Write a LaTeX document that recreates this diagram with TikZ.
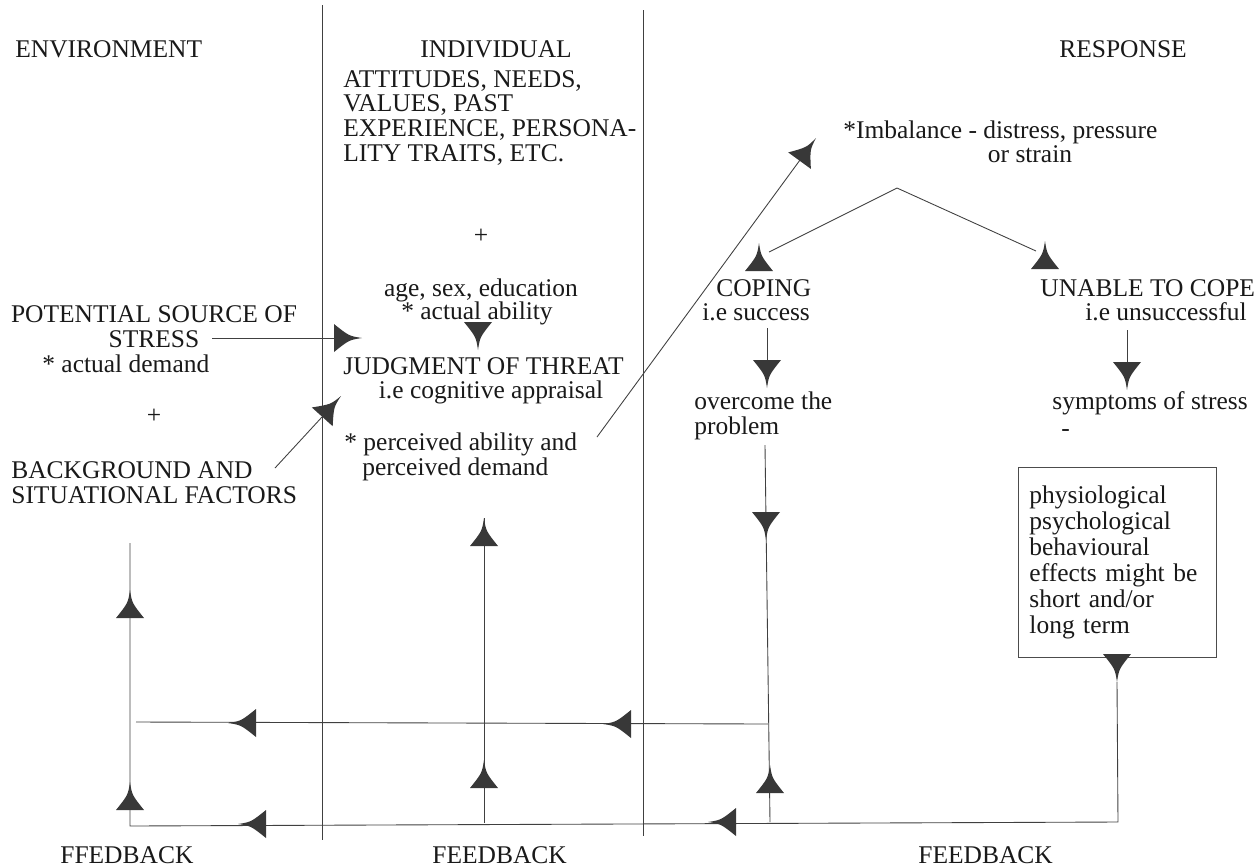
\documentclass[tikz,border=0pt]{standalone}
\usepackage{fontspec}
\setmainfont{Liberation Serif}
\definecolor{headcol}{gray}{0.22}
\definecolor{inkcol}{gray}{0.1}

\begin{document}
\begin{tikzpicture}[x=0.02cm, y=-0.02cm,
  txt/.style={inner sep=0pt, text=inkcol, font=\fontsize{14.5}{14}\selectfont},
  rule/.style={line width=0.5pt, draw=black!75},
  hd/.pic={\fill[headcol] (0,0) .. controls (-13,-2) .. (-28,-14)
    -- (-28,14) .. controls (-13,2) .. (0,0) -- cycle;}]
  \useasboundingbox (0,0) rectangle (1255,867);

  % column dividers
  \draw[rule] (322,5) -- (322,840);
  \draw[rule] (643,10) -- (643,836);

  % headings
  \node[txt, anchor=base west] (env) at (15,57) {ENVIRONMENT};
  \node[txt, anchor=base west] (indv) at (420,57) {INDIVIDUAL};
  \node[txt, anchor=base west] (resp) at (1059,57) {RESPONSE};

  % environment column (base = last line)
  \node[txt, anchor=base, align=center] (pot) at (154,347) {POTENTIAL SOURCE OF\\STRESS};
  \node[txt, anchor=base west] (actdem) at (42,372) {* actual demand};
  \node[txt, anchor=base] (plusE) at (154,423) {+};
  \node[txt, anchor=base west, align=left] (backg) at (11,503) {BACKGROUND AND\\SITUATIONAL FACTORS};

  % individual column
  \node[txt, anchor=base west, align=left] (attit) at (343,161)
    {ATTITUDES, NEEDS,\\VALUES, PAST\\EXPERIENCE, PERSONA-\\LITY TRAITS, ETC.};
  \node[txt, anchor=base] (plusI) at (481,243) {+};
  \node[txt, anchor=base] (age) at (481,296) {age, sex, education};
  \node[txt, anchor=base] (actab) at (477,319) {* actual ability};
  \node[txt, anchor=base west] (judg) at (343,374) {JUDGMENT OF THREAT};
  \node[txt, anchor=base] (cogn) at (491,398) {i.e cognitive appraisal};
  \node[txt, anchor=base west] (perc) at (344,450) {* perceived ability and};
  \node[txt, anchor=base west] (percd) at (362,475) {perceived demand};

  % response column
  \node[txt, anchor=base west] (imb) at (843,138) {*Imbalance - distress, pressure};
  \node[txt, anchor=base] (strain) at (1030,162) {or strain};
  \node[txt, anchor=base west] (cope) at (716,296) {COPING};
  \node[txt, anchor=base west] (succ) at (702,320) {i.e success};
  \node[txt, anchor=base west, align=left] (over) at (694,434) {overcome the\\problem};
  \node[txt, anchor=base west] (unable) at (1040,296) {UNABLE TO COPE};
  \node[txt, anchor=base west] (unsucc) at (1085,320) {i.e unsuccessful};
  \node[txt, anchor=base west] (sympt) at (1052,409) {symptoms of stress};
  \node[txt, anchor=base west] (dash) at (1061,436) {-};
  \node[txt, draw=black!70, line width=0.5pt, anchor=north west, inner xsep=0.22cm,
    text width=3.52cm, minimum height=3.8cm, align=left,
    font=\fontsize{14.5}{14.8}\selectfont] (effects) at (1018,467)
    {physiological\\psychological\\behavioural\\effects might be\\short and/or\\long term};

  % feedback labels
  \node[txt, anchor=base west] (fb1) at (60,863) {FFEDBACK};
  \node[txt, anchor=base west] (fb2) at (432,863) {FEEDBACK};
  \node[txt, anchor=base west] (fb3) at (918,863) {FEEDBACK};

  % connector ends
  \coordinate (stA) at (212,338);  \coordinate (stB) at (334,338);
  \coordinate (bgA) at (275,468);  \coordinate (bgB) at (322,417);
  \coordinate (pvA) at (597,437);  \coordinate (pvB) at (800,160);
  \coordinate (apex) at (897,188);
  \coordinate (vl) at (769,252);   \coordinate (vr) at (1036,251);
  \coordinate (cpA) at (767,328);  \coordinate (cpB) at (767,362);
  \coordinate (unA) at (1127,330); \coordinate (unB) at (1127,364);
  \coordinate (ovA) at (765,445);  \coordinate (ovB) at (770,822);
  \coordinate (fbA) at (768,724);  \coordinate (fbB) at (136,722);
  \coordinate (lvA) at (130,543);  \coordinate (lvB) at (130,826);
  \coordinate (mvA) at (484,518);  \coordinate (mvB) at (484,823);
  \coordinate (bxA) at (1117,682); \coordinate (bxB) at (1118,822);

  \draw[rule] (stA) -- (stB);
  \draw[rule] (bgA) -- (bgB);
  \draw[rule] (pvA) -- (pvB);
  \draw[rule] (vl) -- (apex) -- (vr);
  \draw[rule] (cpA) -- (cpB);
  \draw[rule] (unA) -- (unB);
  \draw[rule] (ovA) -- (ovB);
  \draw[rule] (fbA) -- (fbB);
  \draw[rule] (lvA) -- (lvB) -- (bxB) -- (bxA);
  \draw[rule] (mvA) -- (mvB);

  % arrow heads, tip at the given point
  \pic[rotate=0] at (362,338) {hd};
  \pic[rotate=-90] at (478,350) {hd};
  \pic[rotate=48] at (341,396) {hd};
  \pic[rotate=54] at (816,138) {hd};
  \pic[rotate=90] at (759,243) {hd};
  \pic[rotate=90] at (1045,241) {hd};
  \pic[rotate=-90] at (767,388) {hd};
  \pic[rotate=-90] at (1127,390) {hd};
  \pic[rotate=-90] at (766,540) {hd};
  \pic[rotate=90] at (770,765) {hd};
  \pic[rotate=90] at (484,518) {hd};
  \pic[rotate=90] at (484,760) {hd};
  \pic[rotate=90] at (130,590) {hd};
  \pic[rotate=90] at (130,782) {hd};
  \pic[rotate=180] at (228,723) {hd};
  \pic[rotate=180] at (603,724) {hd};
  \pic[rotate=180] at (238,824) {hd};
  \pic[rotate=180] at (708,822) {hd};
  \pic[rotate=-90] at (1117,682) {hd};
\end{tikzpicture}
\end{document}
